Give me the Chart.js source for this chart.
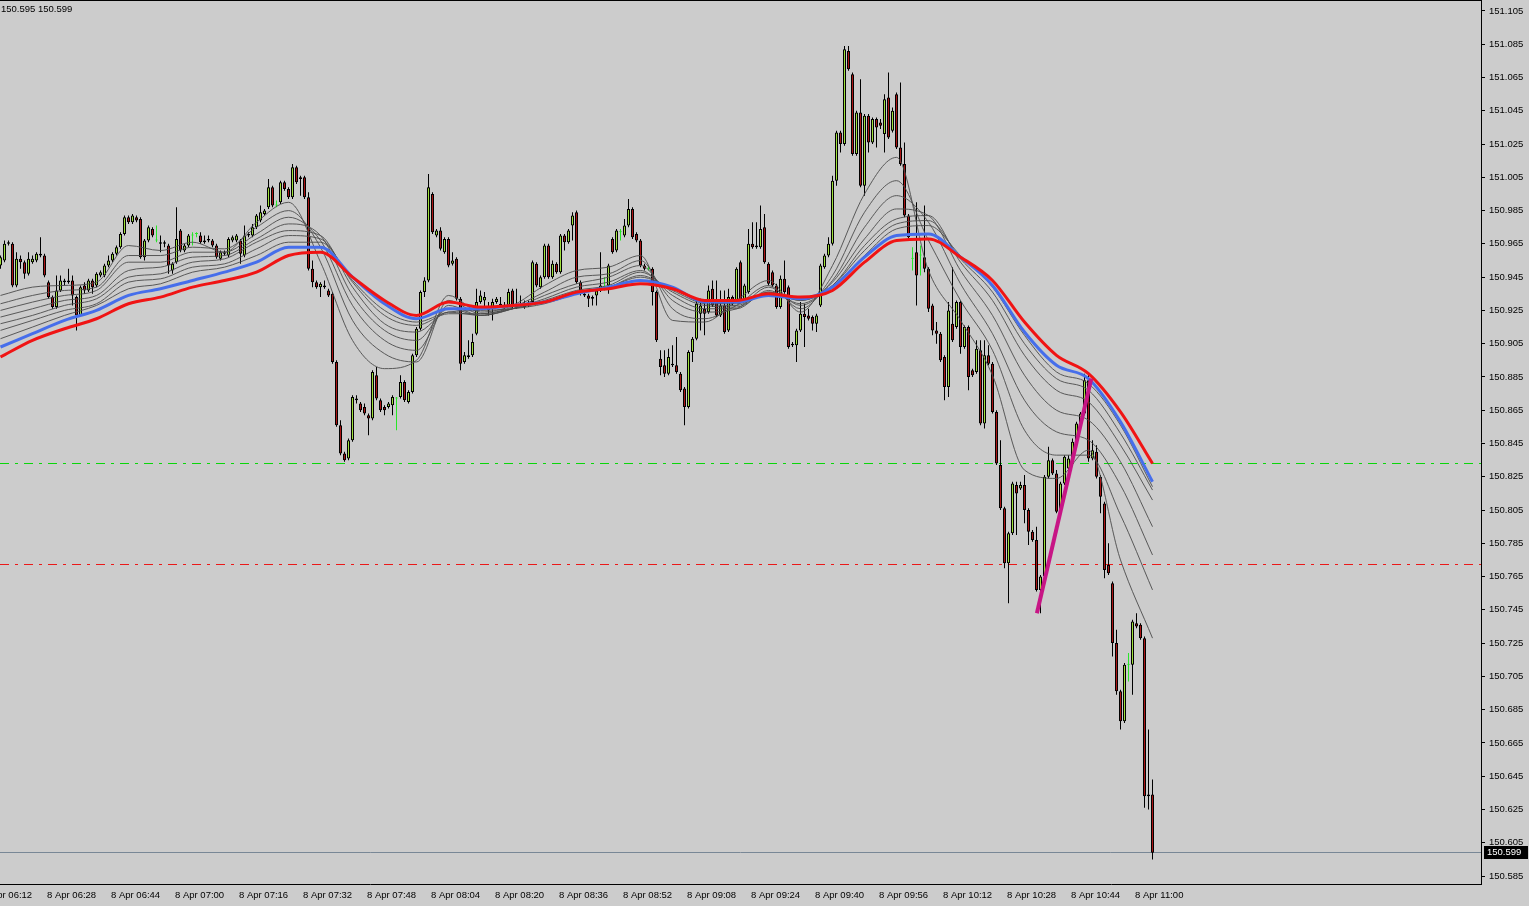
<!DOCTYPE html>
<html><head><meta charset="utf-8">
<script src="https://cdn.jsdelivr.net/npm/chart.js@4.4.1/dist/chart.umd.min.js"></script>
<style>
html,body{margin:0;padding:0;background:#cccccc;overflow:hidden}
#wrap{position:relative;width:1529px;height:906px}
canvas{display:block}
</style>
</head><body><div id="wrap"><canvas id="c" width="1529" height="906"></canvas></div>
<script>
// ---------- DATA ----------
const bidAsk = '150.595 150.599';
const firstCandleTime = '06:16';
const timeLabels = ['8 Apr 06:12','8 Apr 06:28','8 Apr 06:44','8 Apr 07:00','8 Apr 07:16','8 Apr 07:32','8 Apr 07:48','8 Apr 08:04','8 Apr 08:20','8 Apr 08:36','8 Apr 08:52','8 Apr 09:08','8 Apr 09:24','8 Apr 09:40','8 Apr 09:56','8 Apr 10:12','8 Apr 10:28','8 Apr 10:44','8 Apr 11:00'];
const yTickLabels = ['151.105','151.085','151.065','151.045','151.025','151.005','150.985','150.965','150.945','150.925','150.905','150.885','150.865','150.845','150.825','150.805','150.785','150.765','150.745','150.725','150.705','150.685','150.665','150.645','150.625','150.605','150.585'];

const opens = [150.952,150.955,150.965,150.965,150.940,150.956,150.954,150.947,150.954,150.955,150.958,150.958,150.942,150.933,150.927,150.937,150.943,150.942,150.943,150.933,150.922,150.940,150.937,150.943,150.940,150.946,150.946,150.952,150.955,150.959,150.963,150.971,150.981,150.978,150.981,150.980,150.957,150.967,150.974,150.967,150.966,150.965,150.964,150.949,150.954,150.973,150.961,150.964,150.970,150.971,150.970,150.967,150.967,150.967,150.964,150.956,150.960,150.958,150.967,150.967,150.967,150.958,150.970,150.970,150.975,150.979,150.983,150.987,150.999,150.988,150.990,151.002,150.998,150.993,151.011,151.004,151.005,150.993,150.950,150.942,150.939,150.940,150.937,150.935,150.894,150.856,150.839,150.836,150.847,150.872,150.869,150.867,150.862,150.860,150.886,150.871,150.867,150.867,150.868,150.872,150.873,150.882,150.870,150.876,150.898,150.914,150.936,150.943,150.995,150.970,150.973,150.960,150.968,150.953,150.956,150.932,150.894,150.897,150.898,150.911,150.930,150.931,150.926,150.927,150.930,150.928,150.927,150.928,150.937,150.928,150.928,150.927,150.928,150.930,150.953,150.939,150.945,150.964,150.945,150.953,150.948,150.970,150.966,150.976,150.984,150.942,150.935,150.934,150.932,150.934,150.937,150.939,150.940,150.968,150.961,150.972,150.970,150.976,150.986,150.971,150.967,150.952,150.950,150.950,150.936,150.896,150.892,150.887,150.893,150.892,150.887,150.878,150.867,150.900,150.908,150.923,150.926,150.924,150.938,150.931,150.922,150.928,150.913,150.933,150.931,150.954,150.931,150.936,150.965,150.964,150.963,150.975,150.953,150.948,150.940,150.927,150.944,150.939,150.905,150.904,150.913,150.923,150.922,150.921,150.917,150.928,150.951,150.958,150.965,151.003,151.032,151.025,151.081,151.067,151.019,151.044,151.000,151.042,151.026,151.040,151.038,151.031,151.053,151.033,151.055,151.023,151.013,150.982,150.956,150.960,150.958,150.957,150.950,150.928,150.913,150.911,150.897,150.879,150.917,150.915,150.930,150.903,150.915,150.889,150.888,150.901,150.857,150.898,150.893,150.864,150.832,150.806,150.773,150.791,150.820,150.818,150.820,150.805,150.792,150.787,150.757,150.765,150.825,150.835,150.827,150.803,150.821,150.830,150.836,150.846,150.857,150.863,150.883,150.836,150.840,150.825,150.809,150.772,150.761,150.725,150.696,150.678,150.712,150.712,150.737,150.736,150.728,150.634,150.634];
const highs = [150.958,150.967,150.967,150.966,150.960,150.958,150.955,150.960,150.958,150.960,150.969,150.959,150.943,150.934,150.946,150.946,150.944,150.950,150.946,150.934,150.940,150.942,150.944,150.944,150.948,150.949,150.953,150.958,150.960,150.964,150.972,150.982,150.982,150.983,150.982,150.981,150.968,150.976,150.975,150.976,150.970,150.967,150.965,150.954,150.987,150.974,150.965,150.971,150.972,150.972,150.972,150.970,150.970,150.968,150.965,150.961,150.961,150.969,150.970,150.971,150.968,150.976,150.972,150.977,150.983,150.988,150.986,151.004,151.000,150.991,151.003,151.003,150.999,151.013,151.012,151.006,151.006,150.996,150.955,150.943,150.942,150.943,150.938,150.936,150.895,150.859,150.840,150.848,150.874,150.874,150.870,150.869,150.863,150.889,150.891,150.872,150.868,150.870,150.874,150.873,150.886,150.883,150.877,150.899,150.915,150.937,150.945,151.007,150.996,150.974,150.975,150.969,150.969,150.960,150.957,150.933,150.900,150.907,150.911,150.938,150.937,150.936,150.930,150.932,150.933,150.933,150.930,150.938,150.938,150.938,150.934,150.931,150.931,150.955,150.954,150.946,150.965,150.965,150.955,150.954,150.971,150.971,150.974,150.984,150.985,150.943,150.937,150.935,150.934,150.938,150.960,150.945,150.953,150.969,150.974,150.974,150.980,150.992,150.987,150.972,150.968,150.953,150.952,150.951,150.937,150.901,150.901,150.902,150.904,150.909,150.888,150.879,150.901,150.909,150.932,150.932,150.931,150.940,150.943,150.943,150.937,150.937,150.938,150.934,150.951,150.955,150.941,150.974,150.978,150.978,150.988,150.983,150.954,150.949,150.941,150.946,150.955,150.940,150.906,150.914,150.930,150.929,150.926,150.922,150.923,150.953,150.959,150.969,151.006,151.033,151.033,151.084,151.084,151.068,151.045,151.064,151.043,151.043,151.041,151.041,151.040,151.055,151.068,151.047,151.056,151.062,151.026,150.983,150.963,150.990,150.964,150.988,150.951,150.929,150.918,150.912,150.898,150.930,150.951,150.931,150.931,150.916,150.916,150.890,150.907,150.907,150.907,150.904,150.894,150.865,150.847,150.807,150.792,150.822,150.822,150.822,150.826,150.806,150.793,150.795,150.766,150.826,150.843,150.836,150.829,150.822,150.838,150.838,150.848,150.858,150.864,150.887,150.887,150.847,150.844,150.826,150.810,150.785,150.762,150.733,150.697,150.713,150.719,150.739,150.743,150.737,150.729,150.673,150.643];
const lows = [150.950,150.954,150.964,150.939,150.939,150.950,150.944,150.946,150.953,150.954,150.957,150.945,150.932,150.926,150.926,150.936,150.940,150.941,150.928,150.913,150.921,150.935,150.936,150.935,150.939,150.945,150.945,150.951,150.954,150.958,150.962,150.970,150.977,150.977,150.978,150.956,150.955,150.966,150.969,150.966,150.960,150.963,150.947,150.947,150.953,150.960,150.960,150.963,150.964,150.969,150.965,150.965,150.966,150.963,150.956,150.955,150.958,150.957,150.966,150.966,150.953,150.957,150.969,150.969,150.974,150.978,150.982,150.986,150.987,150.987,150.989,150.997,150.992,150.992,151.001,150.994,150.992,150.949,150.939,150.938,150.933,150.938,150.933,150.893,150.855,150.838,150.834,150.835,150.846,150.869,150.864,150.862,150.850,150.859,150.871,150.864,150.862,150.866,150.862,150.853,150.872,150.870,150.869,150.875,150.897,150.913,150.933,150.942,150.971,150.969,150.961,150.959,150.951,150.952,150.931,150.889,150.893,150.896,150.897,150.910,150.929,150.927,150.922,150.919,150.929,150.927,150.926,150.927,150.926,150.926,150.927,150.926,150.927,150.929,150.939,150.938,150.944,150.944,150.944,150.947,150.947,150.961,150.965,150.967,150.941,150.934,150.933,150.927,150.928,150.928,150.936,150.937,150.935,150.959,150.960,150.967,150.969,150.975,150.968,150.966,150.951,150.949,150.949,150.928,150.906,150.886,150.885,150.886,150.891,150.887,150.876,150.856,150.866,150.894,150.907,150.913,150.910,150.923,150.927,150.921,150.921,150.911,150.912,150.928,150.930,150.930,150.930,150.935,150.962,150.962,150.962,150.953,150.940,150.939,150.926,150.926,150.935,150.902,150.903,150.894,150.912,150.903,150.919,150.913,150.912,150.927,150.950,150.957,150.964,151.000,151.020,151.024,151.069,151.018,151.018,150.999,150.994,151.020,151.025,151.023,151.034,151.020,151.028,151.032,151.022,151.012,150.981,150.968,150.949,150.928,150.946,150.948,150.924,150.910,150.905,150.894,150.871,150.873,150.906,150.914,150.899,150.902,150.877,150.885,150.887,150.856,150.854,150.892,150.863,150.832,150.805,150.770,150.749,150.790,150.790,150.817,150.797,150.784,150.786,150.756,150.743,150.764,150.824,150.826,150.803,150.802,150.820,150.829,150.835,150.845,150.856,150.862,150.834,150.835,150.824,150.803,150.764,150.766,150.717,150.694,150.673,150.677,150.702,150.694,150.734,150.727,150.626,150.625,150.595];
const closes = [150.957,150.965,150.966,150.940,150.956,150.954,150.947,150.956,150.956,150.959,150.959,150.946,150.933,150.927,150.937,150.943,150.942,150.943,150.934,150.922,150.939,150.937,150.943,150.939,150.947,150.948,150.952,150.955,150.959,150.963,150.971,150.981,150.978,150.982,150.979,150.957,150.967,150.975,150.970,150.967,150.965,150.966,150.952,150.953,150.968,150.961,150.964,150.970,150.970,150.971,150.966,150.966,150.968,150.964,150.957,150.960,150.959,150.968,150.969,150.970,150.959,150.970,150.971,150.975,150.982,150.984,150.985,150.999,150.988,150.988,151.002,150.998,150.993,151.011,151.002,151.005,150.993,150.950,150.942,150.939,150.941,150.939,150.934,150.894,150.856,150.839,150.835,150.847,150.873,150.871,150.865,150.863,150.860,150.888,150.872,150.865,150.865,150.869,150.873,150.872,150.882,150.871,150.876,150.898,150.914,150.936,150.943,150.999,150.972,150.973,150.962,150.968,150.952,150.955,150.932,150.893,150.898,150.898,150.906,150.930,150.934,150.933,150.925,150.930,150.932,150.929,150.928,150.936,150.927,150.927,150.929,150.928,150.929,150.954,150.940,150.945,150.964,150.945,150.953,150.948,150.970,150.966,150.973,150.982,150.942,150.937,150.934,150.932,150.933,150.937,150.940,150.939,150.952,150.960,150.973,150.972,150.976,150.986,150.969,150.967,150.952,150.950,150.950,150.936,150.907,150.891,150.887,150.897,150.892,150.888,150.877,150.867,150.900,150.908,150.929,150.928,150.923,150.937,150.928,150.922,150.928,150.912,150.933,150.929,150.950,150.931,150.940,150.965,150.963,150.963,150.974,150.954,150.941,150.940,150.927,150.944,150.936,150.903,150.904,150.913,150.923,150.921,150.920,150.917,150.922,150.952,150.958,150.965,151.003,151.032,151.025,151.082,151.070,151.019,151.044,151.000,151.042,151.026,151.040,151.035,151.036,151.052,151.029,151.045,151.023,151.013,150.982,150.969,150.956,150.946,150.958,150.950,150.926,150.913,150.911,150.895,150.879,150.925,150.907,150.930,150.903,150.915,150.885,150.886,150.902,150.857,150.898,150.893,150.864,150.833,150.806,150.773,150.791,150.821,150.815,150.820,150.805,150.792,150.787,150.757,150.765,150.825,150.835,150.827,150.804,150.821,150.837,150.836,150.846,150.857,150.863,150.883,150.836,150.841,150.825,150.813,150.769,150.767,150.725,150.696,150.678,150.712,150.712,150.738,150.735,150.728,150.633,150.633,150.599];

// moving-average readings, sampled every 8th candle
const maKeys = [0,8,16,24,32,40,48,56,64,72,80,88,96,104,112,120,128,136,144,152,160,168,176,184,192,200,208,216,224,232,240,248,256,264,272,280,288];
const redMA  = [150.897,150.907,150.914,150.920,150.929,150.933,150.939,150.943,150.948,150.958,150.960,150.945,150.931,150.922,150.930,150.927,150.928,150.930,150.936,150.938,150.941,150.938,150.931,150.931,150.935,150.933,150.937,150.954,150.967,150.968,150.957,150.943,150.918,150.898,150.887,150.864,150.833];
const blueMA = [150.903,150.911,150.919,150.925,150.934,150.938,150.943,150.948,150.954,150.963,150.963,150.945,150.929,150.920,150.926,150.926,150.928,150.930,150.935,150.939,150.943,150.939,150.930,150.930,150.934,150.932,150.939,150.957,150.970,150.971,150.957,150.940,150.912,150.892,150.884,150.858,150.822];
const gray1 = [150.934,150.939,150.940,150.942,150.964,150.961,150.966,150.960,150.978,150.990,150.954,150.907,150.890,150.895,150.934,150.924,150.928,150.940,150.949,150.951,150.958,150.919,150.918,150.931,150.943,150.924,150.952,150.995,151.017,150.949,150.919,150.886,150.829,150.824,150.841,150.775,150.728];
const gray2 = [150.929,150.934,150.937,150.939,150.958,150.958,150.963,150.962,150.975,150.985,150.963,150.919,150.899,150.894,150.931,150.923,150.927,150.936,150.945,150.947,150.955,150.926,150.920,150.928,150.940,150.926,150.946,150.984,151.003,150.967,150.931,150.901,150.853,150.838,150.838,150.802,150.757];
const gray3 = [150.925,150.930,150.934,150.937,150.954,150.954,150.960,150.960,150.971,150.981,150.967,150.928,150.907,150.901,150.928,150.922,150.926,150.934,150.941,150.945,150.952,150.931,150.924,150.926,150.939,150.928,150.943,150.975,150.994,150.978,150.941,150.911,150.871,150.852,150.847,150.820,150.778];
const gray4 = [150.921,150.926,150.931,150.934,150.949,150.951,150.957,150.958,150.968,150.977,150.970,150.934,150.913,150.907,150.926,150.922,150.926,150.932,150.939,150.942,150.949,150.934,150.926,150.926,150.937,150.929,150.942,150.968,150.986,150.982,150.949,150.922,150.886,150.865,150.859,150.834,150.795];
const gray5 = [150.917,150.922,150.928,150.932,150.945,150.947,150.954,150.956,150.966,150.973,150.970,150.939,150.917,150.912,150.924,150.922,150.926,150.931,150.937,150.940,150.948,150.936,150.928,150.927,150.936,150.931,150.940,150.964,150.980,150.982,150.954,150.931,150.898,150.877,150.870,150.844,150.811];
const gray6 = [150.913,150.919,150.925,150.929,150.942,150.944,150.951,150.953,150.962,150.970,150.968,150.942,150.922,150.916,150.923,150.923,150.926,150.930,150.936,150.939,150.946,150.937,150.929,150.928,150.936,150.931,150.940,150.961,150.977,150.979,150.956,150.936,150.905,150.884,150.877,150.851,150.817];
const gray7 = [150.908,150.915,150.922,150.928,150.938,150.941,150.948,150.951,150.958,150.966,150.966,150.943,150.925,150.918,150.924,150.925,150.926,150.929,150.935,150.939,150.945,150.938,150.930,150.929,150.935,150.932,150.939,150.958,150.974,150.976,150.958,150.939,150.910,150.888,150.881,150.856,150.819];

const levelGreen = 150.833;
const levelRed = 150.772;
const trendX = [259.1, 272.7];
const trendY = [150.743, 150.884];

// ---------- CHART ----------
const FONT = '"Liberation Sans", Arial, sans-serif';
const lastPrice = closes[closes.length - 1];
const xMin = -0.125, xMax = 370.125;
const yMin = 150.5802, yMax = 151.1116;

function minutesOf(hhmm){ const p = hhmm.split(':'); return (+p[0]) * 60 + (+p[1]); }
const startMin = minutesOf(firstCandleTime);
const xTicks = timeLabels.map(t => ({ value: minutesOf(t.split(' ')[2]) - startMin, lbl: t }));
const yTicks = yTickLabels.map(t => ({ value: parseFloat(t), lbl: t }));

const kind = opens.map((o, i) => closes[i] > o ? 'up' : (closes[i] < o ? 'down' : 'doji'));
const LIME = 'rgb(40,230,40)';
const wickData = opens.map((o, i) => ({ x: i, y: [lows[i], highs[i]] }));
const bodyData = opens.map((o, i) => ({ x: i, y: [opens[i], closes[i]] }));

function maSeries(vals){ return vals.map((v, i) => ({ x: maKeys[i], y: v })); }
const grayStyle = { type: 'line', borderColor: 'rgba(75,75,75,0.9)', borderWidth: 1, pointRadius: 0, cubicInterpolationMode: 'monotone', order: 3 };

// horizontal level lines, positioned through the y scale and snapped to whole pixels
const levels = [
  { value: levelGreen, color: 'rgb(10,215,10)', dash: [9, 6, 3, 6] },
  { value: levelRed, color: 'rgb(235,25,25)', dash: [9, 6, 3, 6] },
  { value: lastPrice, color: 'rgb(120,135,150)', dash: [] }
];
const levelLines = {
  id: 'levelLines',
  beforeDatasetsDraw(chart) {
    const { ctx, chartArea, scales: { y } } = chart;
    ctx.save();
    ctx.lineWidth = 1;
    levels.forEach(l => {
      const py = Math.floor(y.getPixelForValue(l.value)) + 0.5;
      ctx.strokeStyle = l.color;
      ctx.setLineDash(l.dash);
      ctx.beginPath();
      ctx.moveTo(chartArea.left, py);
      ctx.lineTo(chartArea.right, py);
      ctx.stroke();
    });
    ctx.restore();
  }
};

const decor = {
  id: 'decor',
  afterDraw(chart) {
    const { ctx, chartArea, scales: { y } } = chart;
    ctx.save();
    ctx.fillStyle = '#000';
    ctx.fillRect(0, 0, chartArea.right + 1, 1);
    ctx.font = '9.5px ' + FONT;
    ctx.textBaseline = 'middle';
    ctx.textAlign = 'left';
    ctx.fillText(bidAsk, 1, 9);
    const py = Math.floor(y.getPixelForValue(lastPrice));
    ctx.fillRect(chartArea.right + 3, py - 6, 44, 13);
    ctx.fillStyle = '#fff';
    ctx.fillText(lastPrice.toFixed(3), chartArea.right + 6, py + 0.5);
    ctx.restore();
  }
};

new Chart(document.getElementById('c'), {
  type: 'line',
  data: {
    datasets: [
      { type: 'line', data: trendX.map((x, i) => ({ x: x, y: trendY[i] })), borderColor: 'rgb(199,21,133)', borderWidth: 4, pointRadius: 0, order: 0 },
      { type: 'line', data: maSeries(redMA), borderColor: 'rgb(240,20,20)', borderWidth: 3, pointRadius: 0, cubicInterpolationMode: 'monotone', order: 1 },
      { type: 'line', data: maSeries(blueMA), borderColor: 'rgb(70,110,235)', borderWidth: 3, pointRadius: 0, cubicInterpolationMode: 'monotone', order: 2 },
      Object.assign({ data: maSeries(gray1) }, grayStyle),
      Object.assign({ data: maSeries(gray2) }, grayStyle),
      Object.assign({ data: maSeries(gray3) }, grayStyle),
      Object.assign({ data: maSeries(gray4) }, grayStyle),
      Object.assign({ data: maSeries(gray5) }, grayStyle),
      Object.assign({ data: maSeries(gray6) }, grayStyle),
      Object.assign({ data: maSeries(gray7) }, grayStyle),
      {
        type: 'bar', data: bodyData, grouped: false, barThickness: 3, borderWidth: 1, borderSkipped: false,
        inflateAmount: 0, minBarLength: 1,
        backgroundColor: kind.map(k => k === 'up' ? 'rgb(160,225,60)' : (k === 'down' ? 'rgb(170,20,20)' : LIME)),
        borderColor: kind.map(k => k === 'doji' ? LIME : '#000'),
        order: 5
      },
      {
        type: 'bar', data: wickData, grouped: false, barThickness: 1, borderWidth: 0, inflateAmount: 0,
        backgroundColor: kind.map(k => k === 'doji' ? LIME : '#000'),
        order: 6
      }
    ]
  },
  options: {
    responsive: false,
    animation: false,
    devicePixelRatio: 1,
    layout: { padding: 0 },
    plugins: { legend: { display: false }, tooltip: { enabled: false } },
    scales: {
      x: {
        type: 'linear', min: xMin, max: xMax, offset: false, bounds: 'data',
        grid: { drawOnChartArea: false, drawTicks: false, tickLength: 0 },
        border: { display: true, color: '#000', width: 1 },
        afterBuildTicks: s => { s.ticks = xTicks.map(t => ({ value: t.value, lbl: t.lbl })); },
        afterFit: s => { s.height = 22; s.paddingLeft = 0; s.paddingRight = 0; s.paddingTop = 0; s.paddingBottom = 0; },
        ticks: {
          autoSkip: false, maxRotation: 0, minRotation: 0, align: 'start', labelOffset: -1.5, padding: 6,
          color: '#000', font: { family: FONT, size: 9.5 },
          callback: (v, i, ts) => ts[i].lbl
        }
      },
      y: {
        type: 'linear', position: 'right', min: yMin, max: yMax, bounds: 'data',
        grid: { drawOnChartArea: false, drawTicks: true, tickLength: 4, color: '#000' },
        border: { display: true, color: '#000', width: 1 },
        afterBuildTicks: s => { s.ticks = yTicks.map(t => ({ value: t.value, lbl: t.lbl })); },
        afterFit: s => { s.width = 48; s.paddingTop = 0; s.paddingBottom = 0; s.paddingLeft = 0; s.paddingRight = 0; },
        ticks: {
          autoSkip: false, padding: 4, color: '#000', font: { family: FONT, size: 9.5 },
          callback: (v, i, ts) => ts[i].lbl
        }
      }
    }
  },
  plugins: [levelLines, decor]
});
</script>
</body></html>
